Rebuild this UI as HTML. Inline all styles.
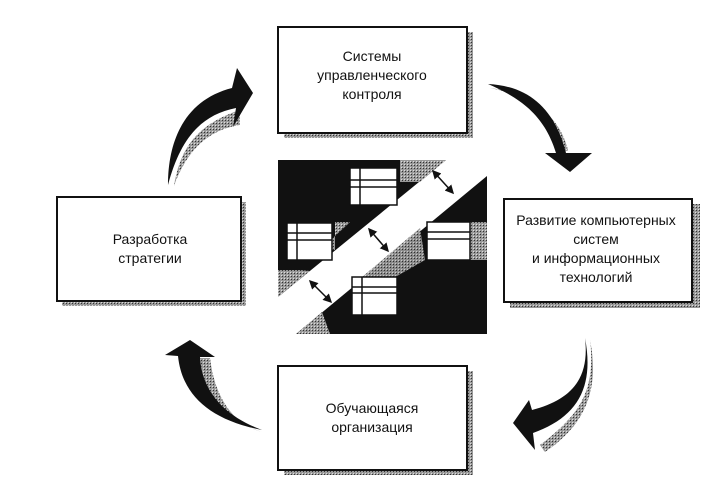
<!DOCTYPE html>
<html><head><meta charset="utf-8"><style>
body{margin:0;background:#fff;width:725px;height:488px;overflow:hidden}
text{font-family:"Liberation Sans",sans-serif;font-size:14px;fill:#111;text-anchor:middle}
</style></head><body>
<svg width="725" height="488" viewBox="0 0 725 488" xmlns="http://www.w3.org/2000/svg">
<defs>
<pattern id="dot" width="3" height="3" patternUnits="userSpaceOnUse"><rect width="3" height="3" fill="#999"/><rect width="1" height="1" fill="#333"/><rect x="2" y="2" width="1" height="1" fill="#ddd"/></pattern>
<marker id="ah" markerWidth="6" markerHeight="6" refX="5" refY="3" orient="auto-start-reverse"><path d="M0,0 L6,3 L0,6Z" fill="#111"/></marker>
</defs>
<rect x="284" y="32" width="189" height="106" fill="url(#dot)"/>
<rect x="278" y="27" width="189" height="106" fill="#fff" stroke="#111" stroke-width="2"/>
<text x="372" y="61">Системы</text><text x="372" y="80">управленческого</text><text x="372" y="99">контроля</text>

<rect x="62" y="202" width="184" height="104" fill="url(#dot)"/>
<rect x="57" y="197" width="184" height="104" fill="#fff" stroke="#111" stroke-width="2"/>
<text x="150" y="244">Разработка</text><text x="150" y="263">стратегии</text>

<rect x="510" y="204" width="190" height="104" fill="url(#dot)"/>
<rect x="504" y="199" width="188" height="103" fill="#fff" stroke="#111" stroke-width="2"/>
<text x="596" y="225">Развитие компьютерных</text><text x="596" y="244">систем</text><text x="596" y="263">и информационных</text><text x="596" y="282">технологий</text>

<rect x="284" y="371" width="189" height="104" fill="url(#dot)"/>
<rect x="278" y="366" width="189" height="104" fill="#fff" stroke="#111" stroke-width="2"/>
<text x="372" y="413">Обучающаяся</text><text x="372" y="432">организация</text>

<!-- center graphic -->
<polygon points="278,160 446,160 278,297" fill="#111"/>
<polygon points="400,160 446,160 420,182 400,182" fill="url(#dot)"/>
<polygon points="278,270 300,270 310,271 278,297" fill="url(#dot)"/>
<polygon points="335,222 350,222 320,250 335,250" fill="url(#dot)"/>
<polygon points="487,176 487,334 296,334" fill="#111"/>
<polygon points="296,334 322,312 330,334" fill="url(#dot)"/>
<polygon points="355,283 420,228 425,260 355,300" fill="url(#dot)" opacity="0.9"/>
<polygon points="470,222 487,222 487,260 470,260" fill="url(#dot)"/>
<g fill="#fff" stroke="#111" stroke-width="1.5">
<rect x="350" y="168" width="47" height="37"/><line x1="350" y1="180" x2="397" y2="180"/><line x1="350" y1="187" x2="397" y2="187"/><line x1="360" y1="168" x2="360" y2="205"/>
<rect x="287" y="223" width="45" height="37"/><line x1="287" y1="233" x2="332" y2="233"/><line x1="287" y1="240" x2="332" y2="240"/><line x1="297" y1="223" x2="297" y2="260"/>
<rect x="427" y="222" width="43" height="38"/><line x1="427" y1="232" x2="470" y2="232"/><line x1="427" y1="239" x2="470" y2="239"/>
<rect x="352" y="277" width="45" height="38"/><line x1="352" y1="287" x2="397" y2="287"/><line x1="352" y1="293" x2="397" y2="293"/><line x1="362" y1="277" x2="362" y2="315"/>
</g>
<g stroke="#111" stroke-width="1.5" marker-start="url(#ah)" marker-end="url(#ah)">
<line x1="433" y1="171" x2="453" y2="193"/><line x1="369" y1="229" x2="388" y2="251"/><line x1="310" y1="281" x2="331" y2="302"/>
</g>
<!-- arrows -->
<path d="M174,186 C180,150 195,125 240,110 L240,125 C205,130 185,155 174,186Z" fill="url(#dot)"/>
<path d="M168,185 C168,140 185,100 232,88 L237,68 L253,93 L233,127 L236,108 C200,115 180,140 168,185Z" fill="#111"/>
<path d="M490,88 C525,92 545,110 560,155 L568,150 C560,120 540,98 490,88Z" fill="url(#dot)"/>
<path d="M488,84 C530,86 555,110 566,153 L592,153 L570,172 L545,153 L556,153 C545,118 525,100 488,84Z" fill="#111"/>
<path d="M590,340 C596,390 580,415 540,445 L545,452 C585,425 600,390 590,340Z" fill="url(#dot)"/>
<path d="M585,338 C590,380 570,400 532,410 L529,400 L513,423 L535,450 L533,433 C575,418 595,390 585,338Z" fill="#111"/>
<path d="M200,358 C205,400 225,420 262,432 C235,425 215,400 210,358Z" fill="url(#dot)"/>
<path d="M178,356 C182,395 210,420 262,430 C222,415 202,390 200,357 L215,357 L190,340 L165,355Z" fill="#111"/>
</svg>
</body></html>
